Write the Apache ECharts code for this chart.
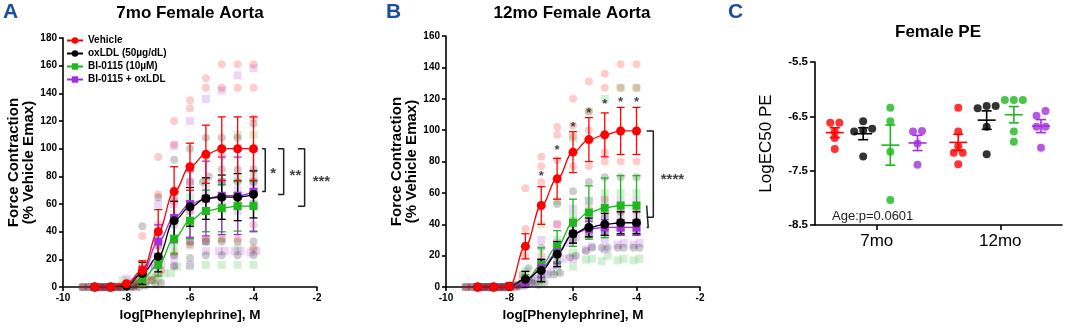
<!DOCTYPE html>
<html>
<head>
<meta charset="utf-8">
<script src="https://cdn.jsdelivr.net/npm/echarts@6/dist/echarts.min.js"></script>
<style>
html, body { margin: 0; padding: 0; background: #fff; }
#chart { width: 1065px; height: 327px; }
</style>
</head>
<body>
<div id="chart"></div>
<script>
// log[PE] concentrations (both aorta panels)
var conc = [-9, -8.5, -8, -7.5, -7, -6.5, -6, -5.5, -5, -4.5, -4];
var groupNames = ["Vehicle", "oxLDL (50\u00b5g/dL)", "BI-0115 (10\u00b5M)", "BI-0115 + oxLDL"];
var groupColors = ["#ff0000", "#000000", "#1cb81c", "#a42ee0"];
var groupSymbols = ["circle", "circle", "rect", "rect"];

// panel A: 7mo female aorta, mean and SEM
var vehMeanA = [0, 0, 2.5, 12, 40, 69, 87, 96, 100, 100, 100];
var vehSemA = [0, 0, 1, 7, 16, 18, 17, 21, 23, 23, 23];
var oxMeanA = [0, 0, 1, 10, 22, 48, 58, 64, 65, 65, 67];
var oxSemA = [0, 0, 1, 8, 11, 14, 14, 15, 16, 17, 17];
var biMeanA = [0, 0, 0.5, 6, 16, 35, 48, 55, 57, 58.5, 58.5];
var biSemA = [0, 1, 1, 5, 8, 11, 13, 15, 17, 18, 18];
var purMeanA = [0, 0, 1, 10, 33, 50, 60, 64, 66, 66, 69];
var purSemA = [0, 0, 1, 5, 12, 18, 24, 27, 28, 28, 29];

// panel A: individual rings
var vehPtsA = [[0,0,0,0,0],[0,0,0,0,0],[5,3,2,1,1],[37,15,5,2,1],[94,67,20,12,7],[120,103,62,35,25],
  [135,129,85,55,31],[151,144,95,55,35],[161,144,95,65,35],[161,144,100,60,35],[161,144,122,45,28]];
var oxPtsA = [[0,0,0,0,0],[0,0,0,0,0],[3,1,1,0,0],[44,5,1,0,0],[65,30,10,3,2],[92,65,45,23,15],
  [100,76,60,33,21],[108,80,76,33,23],[108,85,76,33,23],[108,85,76,33,23],[118,85,76,33,23]];
var biPtsA = [[0,0,0,0,0],[5,0,0,0,0],[3,1,0,0,0],[15,8,4,2,1],[40,20,10,5,5],[70,50,30,15,10],
  [85,65,45,30,15],[95,76,55,33,16],[100,76,58,35,16],[110,78,60,28,16],[110,80,60,27,16]];
var purPtsA = [[0,0,0,0,0],[0,0,0,0,0],[6,0,0,0,0],[16,15,10,5,4],[60,45,30,16,14],[102,60,50,22,16],
  [120,76,55,33,16],[136,70,55,26,33],[142,76,60,26,26],[153,70,55,26,26],[158,76,60,26,25]];

// panel B: 12mo female aorta
var vehMeanB = [0, 0, 0.5, 26, 52, 69, 86, 94, 97, 99.5, 99.5];
var vehSemB = [0, 0, 1, 8, 12, 13, 13, 14, 14, 15, 15];
var oxMeanB = [0, 0, 0.5, 5, 10.5, 21, 34, 38, 40, 41, 41];
var oxSemB = [0, 0, 0.5, 5, 7, 8, 6, 6, 7, 7, 7];
var biMeanB = [0, 0, 0.5, 4, 14, 26, 41, 47.5, 50.5, 52, 52];
var biSemB = [0, 0, 0.5, 4, 11, 10, 15, 17, 19, 19, 19];
var purMeanB = [0, 0, 0.5, 3, 12, 22, 34, 37, 38, 38, 38];
var purSemB = [0, 0, 0.5, 3, 6, 7, 6, 5, 5, 5, 5];

var vehPtsB = [[0,0,0,0,0],[0,0,0,0,0],[2,0,0,0,0],[63,37,20,5,5],[83,77,67,20,13],[102,97,81,40,25],
  [120,103,96,77,34],[131,112,100,77,50],[136,127,86,80,56],[142,127,100,80,49],[142,127,100,80,49]];
var oxPtsB = [[0,0,0,0,0],[0,0,0,0,0],[2,1,0,0,0],[12,8,3,1,1],[25,15,8,3,1.5],[53,20,15,9,8],
  [61,40,30,20,19],[67,42,33,25,23],[70,45,35,25,25],[70,48,37,25,25],[70,50,35,25,25]];
var biPtsB = [[0,0,0,0,0],[0,0,0,0,0],[2,1,0,0,0],[10,5,3,2,0],[40,15,8,5,2],[55,30,20,15,10],
  [95,45,30,22,13],[112,55,35,18,17.5],[120,60,36,20,16.5],[127,60,38,18,17],[127,60,38,18,17]];
var purPtsB = [[0,0,0,0,0],[0,0,0,0,0],[1,1,0,0,0],[6,4,3,1,1],[30,15,8,5,2],[40,28,18,14,10],
  [50,42,32,28,18],[55,45,35,26,24],[55,45,36,30,24],[55,45,35,28,27],[55,45,35,28,27]];

// significance marks in B (vehicle vs others)
var starsB = [[-7, 73], [-6.5, 89.5], [-6, 104], [-5.5, 113], [-5, 119], [-4.5, 120], [-4, 120]];

// panel C: LogEC50 PE
var ages = ["7mo", "12mo"];
var vehEC50_7 = [-6.62, -6.62, -6.78, -6.9, -7.1];
var oxEC50_7 = [-6.59, -6.73, -6.76, -6.78, -7.24];
var biEC50_7 = [-6.34, -6.59, -7.15, -8.04];
var purEC50_7 = [-6.78, -6.77, -7.0, -7.39];
var vehEC50_12 = [-6.34, -6.78, -7.05, -7.17, -7.17, -7.38];
var oxEC50_12 = [-6.31, -6.31, -6.35, -6.69, -7.2];
var biEC50_12 = [-6.2, -6.2, -6.2, -6.78, -6.97];
var purEC50_12 = [-6.40, -6.49, -6.69, -6.69, -7.08];
var ec50Mean7 = [-6.80, -6.82, -7.03, -6.99];
var ec50Sem7 = [0.09, 0.11, 0.37, 0.14];
var ec50Mean12 = [-6.98, -6.57, -6.47, -6.68];
var ec50Sem12 = [0.15, 0.17, 0.15, 0.12];

var baseFont = "'Liberation Sans', Arial, sans-serif";

// beeswarm-ish: spread values that sit on top of each other
function spreadOffsets(vals, tol, step) {
    var idx = vals.map(function(v, i) { return i; }).sort(function(a, b) { return vals[a] - vals[b]; });
    var off = [], cluster = [];
    function flush() {
        for (var k = 0; k < cluster.length; k++) off[cluster[k]] = (k - (cluster.length - 1) / 2) * step;
        cluster = [];
    }
    for (var n = 0; n < idx.length; n++) {
        if (cluster.length && vals[idx[n]] - vals[cluster[cluster.length - 1]] > tol) flush();
        cluster.push(idx[n]);
    }
    flush();
    return off;
}

function pointsSeries(pts, gi, ai, tol) {
    var data = [];
    for (var i = 0; i < conc.length; i++) {
        var off = spreadOffsets(pts[i], tol, 6);
        for (var j = 0; j < pts[i].length; j++) {
            data.push({ value: [conc[i], pts[i][j]], symbolOffset: [off[j], 0] });
        }
    }
    return {
        type: 'scatter', xAxisIndex: ai, yAxisIndex: ai, data: data, silent: true,
        symbol: groupSymbols[gi], symbolSize: 8, z: 1,
        itemStyle: { color: groupColors[gi], opacity: 0.2 }
    };
}

function errorSeries(means, sems, gi, ai) {
    var data = means.map(function(m, i) { return [conc[i], m - sems[i], m + sems[i]]; });
    return {
        type: 'custom', xAxisIndex: ai, yAxisIndex: ai, data: data, silent: true, z: 3,
        renderItem: function(params, api) {
            var top = api.coord([api.value(0), api.value(2)]);
            var bot = api.coord([api.value(0), api.value(1)]);
            var st = { stroke: groupColors[gi], lineWidth: 1.3 };
            return { type: 'group', children: [
                { type: 'line', shape: { x1: top[0], y1: top[1], x2: bot[0], y2: bot[1] }, style: st },
                { type: 'line', shape: { x1: top[0] - 4, y1: top[1], x2: top[0] + 4, y2: top[1] }, style: st },
                { type: 'line', shape: { x1: bot[0] - 4, y1: bot[1], x2: bot[0] + 4, y2: bot[1] }, style: st }
            ]};
        }
    };
}

function meanSeries(means, gi, ai) {
    return {
        type: 'line', name: groupNames[gi], xAxisIndex: ai, yAxisIndex: ai,
        data: means.map(function(m, i) { return [conc[i], m]; }),
        smooth: 0.4, smoothMonotone: 'x',
        symbol: groupSymbols[gi], symbolSize: gi < 2 ? 9 : 8, showSymbol: true,
        lineStyle: { color: groupColors[gi], width: 1.3 },
        itemStyle: { color: groupColors[gi] }, z: 4
    };
}

function bracketSeries(ai, xTick, xLine, yTop, yBot) {
    return {
        type: 'line', xAxisIndex: ai, yAxisIndex: ai, silent: true, symbol: 'none', z: 5,
        data: [[xTick, yTop], [xLine, yTop], [xLine, yBot], [xTick, yBot]],
        lineStyle: { color: '#222', width: 1.5 }
    };
}

function textSeries(ai, pts, text, size) {
    return {
        type: 'scatter', xAxisIndex: ai, yAxisIndex: ai, silent: true, clip: false, z: 6,
        data: pts, symbolSize: 1, itemStyle: { color: 'rgba(0,0,0,0)' },
        label: { show: true, position: 'inside', formatter: text, offset: [0, 4],
                 color: '#111', fontSize: size, fontWeight: 'bold', fontFamily: baseFont }
    };
}

function ec50Series(vals, mean, sem, gi, xc) {
    var off = spreadOffsets(vals, 0.1, 9);
    var dots = vals.map(function(v, i) { return { value: [xc, v], symbolOffset: [off[i], 0] }; });
    return [{
        type: 'scatter', xAxisIndex: 2, yAxisIndex: 2, data: dots, silent: true,
        symbol: 'circle', symbolSize: 8, itemStyle: { color: groupColors[gi] }, z: 3
    }, {
        type: 'custom', xAxisIndex: 2, yAxisIndex: 2, data: [[xc, mean, sem]], silent: true, z: 4,
        renderItem: function(params, api) {
            var x = api.value(0), m = api.value(1), s = api.value(2);
            var c = api.coord([x, m]), t = api.coord([x, m + s]), b = api.coord([x, m - s]);
            var st = { stroke: groupColors[gi], lineWidth: 1.6 };
            return { type: 'group', children: [
                { type: 'line', shape: { x1: c[0] - 9, y1: c[1], x2: c[0] + 9, y2: c[1] }, style: st },
                { type: 'line', shape: { x1: t[0], y1: t[1], x2: b[0], y2: b[1] }, style: st },
                { type: 'line', shape: { x1: t[0] - 5, y1: t[1], x2: t[0] + 5, y2: t[1] }, style: st },
                { type: 'line', shape: { x1: b[0] - 5, y1: b[1], x2: b[0] + 5, y2: b[1] }, style: st }
            ]};
        }
    }];
}

var axisLine = { lineStyle: { color: '#000', width: 1.6 } };
var axisTick = { length: 4, lineStyle: { color: '#000', width: 1.6 } };
var tickLabel = { color: '#000', fontSize: 10, fontWeight: 'bold', fontFamily: baseFont };

function doseXAxis(gi) {
    return {
        type: 'value', gridIndex: gi, min: -10, max: -2, interval: 2,
        name: 'log[Phenylephrine], M', nameLocation: 'middle', nameGap: 20,
        nameTextStyle: { color: '#000', fontSize: 13.5, fontWeight: 'bold', fontFamily: baseFont },
        axisLine: axisLine, axisTick: axisTick, axisLabel: Object.assign({ margin: 6 }, tickLabel),
        splitLine: { show: false }
    };
}
function doseYAxis(gi, max) {
    return {
        type: 'value', gridIndex: gi, min: 0, max: max, interval: 20,
        name: 'Force Contraction\n(% Vehicle Emax)', nameLocation: 'middle', nameGap: 27,
        nameTextStyle: { color: '#000', fontSize: 15, fontWeight: 'bold', fontFamily: baseFont, lineHeight: 15 },
        axisLine: axisLine, axisTick: axisTick, axisLabel: Object.assign({ margin: 6 }, tickLabel),
        splitLine: { show: false }
    };
}

var series = [];
var ptsA = [vehPtsA, oxPtsA, biPtsA, purPtsA], ptsB = [vehPtsB, oxPtsB, biPtsB, purPtsB];
var meanA = [vehMeanA, oxMeanA, biMeanA, purMeanA], semA = [vehSemA, oxSemA, biSemA, purSemA];
var meanB = [vehMeanB, oxMeanB, biMeanB, purMeanB], semB = [vehSemB, oxSemB, biSemB, purSemB];
var drawOrder = [2, 3, 1, 0];
// lines first so the legend picks them up
drawOrder.forEach(function(g) { series.push(meanSeries(meanA[g], g, 0)); });
drawOrder.forEach(function(g) { series.push(meanSeries(meanB[g], g, 1)); });
drawOrder.forEach(function(g) {
    series.push(pointsSeries(ptsA[g], g, 0, 5));
    series.push(pointsSeries(ptsB[g], g, 1, 4.4));
    series.push(errorSeries(meanA[g], semA[g], g, 0));
    series.push(errorSeries(meanB[g], semB[g], g, 1));
});

// A: vehicle vs BI+oxLDL, oxLDL, BI
var last = conc.length - 1;
series.push(bracketSeries(0, -3.73, -3.63, vehMeanA[last], purMeanA[last]));
series.push(bracketSeries(0, -3.23, -3.05, vehMeanA[last], oxMeanA[last]));
series.push(bracketSeries(0, -2.6, -2.39, vehMeanA[last], biMeanA[last]));
series.push(textSeries(0, [[-3.38, (vehMeanA[last] + purMeanA[last]) / 2]], '*', 15));
series.push(textSeries(0, [[-2.68, (vehMeanA[last] + oxMeanA[last]) / 2]], '**', 15));
series.push(textSeries(0, [[-1.86, (vehMeanA[last] + biMeanA[last]) / 2]], '***', 15));

// B
series.push(bracketSeries(1, -3.68, -3.47, vehMeanB[last], 44.5));
series.push(bracketSeries(1, -3.68, -3.63, biMeanB[last], purMeanB[last]));
series.push(textSeries(1, [[-2.87, 71]], '****', 15));
series.push(textSeries(1, starsB, '*', 13));

// C
var offs = [-0.34, -0.11, 0.11, 0.33];
var ec7 = [vehEC50_7, oxEC50_7, biEC50_7, purEC50_7];
var ec12 = [vehEC50_12, oxEC50_12, biEC50_12, purEC50_12];
for (var g = 0; g < 4; g++) {
    series = series.concat(ec50Series(ec7[g], ec50Mean7[g], ec50Sem7[g], g, 0.5 + offs[g]));
    series = series.concat(ec50Series(ec12[g], ec50Mean12[g], ec50Sem12[g], g, 1.5 + offs[g]));
}

var chart = echarts.init(document.getElementById('chart'));
chart.setOption({
    animation: false,
    backgroundColor: '#fff',
    textStyle: { fontFamily: baseFont },
    title: [
        { text: 'A', left: 3, top: 2, padding: 0, textStyle: { color: '#1b4ea0', fontSize: 21, fontWeight: 'bold', fontFamily: baseFont } },
        { text: 'B', left: 386, top: 2, padding: 0, textStyle: { color: '#1b4ea0', fontSize: 21, fontWeight: 'bold', fontFamily: baseFont } },
        { text: 'C', left: 728, top: 2, padding: 0, textStyle: { color: '#1b4ea0', fontSize: 21, fontWeight: 'bold', fontFamily: baseFont } },
        { text: '7mo Female Aorta', left: 190, top: 5, padding: 0, textAlign: 'center', textStyle: { color: '#000', fontSize: 17, fontWeight: 'bold', fontFamily: baseFont } },
        { text: '12mo Female Aorta', left: 572, top: 5, padding: 0, textAlign: 'center', textStyle: { color: '#000', fontSize: 17, fontWeight: 'bold', fontFamily: baseFont } },
        { text: 'Female PE', left: 938, top: 24, padding: 0, textAlign: 'center', textStyle: { color: '#000', fontSize: 17, fontWeight: 'bold', fontFamily: baseFont } },
        { text: 'Age:p=0.0601', left: 832, top: 210, padding: 0, textStyle: { color: '#222', fontSize: 13, fontWeight: 'normal', fontFamily: baseFont } }
    ],
    legend: {
        data: groupNames, orient: 'vertical', left: 66, top: 35, padding: 0,
        itemWidth: 16, itemHeight: 8, itemGap: 2, selectedMode: false,
        textStyle: { color: '#000', fontSize: 10, fontWeight: 'bold', fontFamily: baseFont, lineHeight: 11 }
    },
    grid: [
        { left: 63, top: 38, width: 254, height: 253 },
        { left: 446, top: 36, width: 254, height: 255 },
        { left: 815, top: 62, width: 247, height: 163 }
    ],
    xAxis: [
        doseXAxis(0),
        doseXAxis(1),
        {
            type: 'value', gridIndex: 2, min: 0, max: 2,
            axisLine: axisLine, axisTick: Object.assign({ customValues: [0.5, 1.5] }, axisTick, { length: 5 }),
            axisLabel: { customValues: [0.5, 1.5], margin: 8, color: '#000', fontSize: 17, fontFamily: baseFont,
                formatter: function(v) { return v < 1 ? ages[0] : ages[1]; } },
            splitLine: { show: false }
        }
    ],
    yAxis: [
        doseYAxis(0, 180),
        doseYAxis(1, 160),
        {
            type: 'value', gridIndex: 2, min: -8.5, max: -5.5,
            name: 'LogEC50 PE', nameLocation: 'middle', nameGap: 40,
            nameTextStyle: { color: '#000', fontSize: 17, fontFamily: baseFont },
            axisLine: axisLine, axisTick: Object.assign({ customValues: [-8.5, -7.5, -6.5, -5.5] }, axisTick, { length: 5 }),
            axisLabel: { customValues: [-8.5, -7.5, -6.5, -5.5], margin: 7, color: '#000', fontSize: 11.5, fontWeight: 'bold', fontFamily: baseFont },
            splitLine: { show: false }
        }
    ],
    series: series
});
</script>
</body>
</html>
